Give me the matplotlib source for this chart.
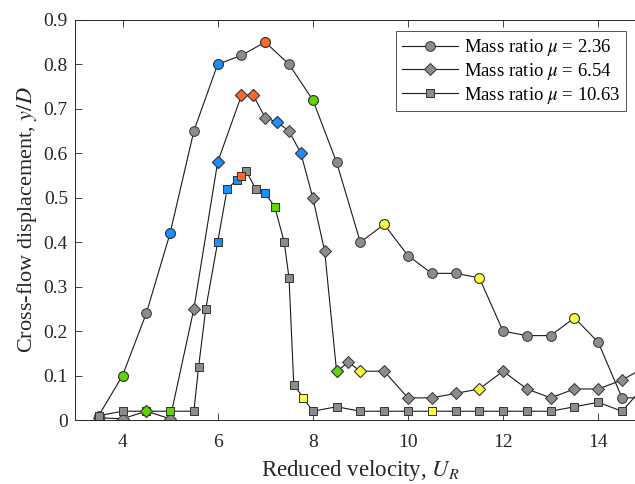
import numpy as np
import matplotlib
matplotlib.use('Agg')
import matplotlib.pyplot as plt

plt.rcParams['font.family'] = ['Liberation Serif', 'DejaVu Serif']
plt.rcParams['mathtext.fontset'] = 'stix'

# reduced velocity and cross-flow amplitude for each mass ratio
ur_1 = [3.5, 4, 4.5, 5, 5.5, 6, 6.5, 7, 7.5, 8, 8.5, 9, 9.5, 10, 10.5, 11,
        11.5, 12, 12.5, 13, 13.5, 14, 14.5, 15]
amp_1 = [0.01, 0.10, 0.24, 0.42, 0.65, 0.80, 0.82, 0.85, 0.80, 0.72, 0.58, 0.40,
         0.44, 0.37, 0.33, 0.33, 0.32, 0.20, 0.19, 0.19, 0.23, 0.175, 0.05, 0.05]
mode_1 = ['', 'g', '', 'b', '', 'b', '', 'o', '', 'g', '', '',
          'y', '', '', '', 'y', '', '', '', 'y', '', '', '']

ur_2 = [3.5, 4, 4.5, 5, 5.5, 6, 6.5, 6.75, 7, 7.25, 7.5, 7.75, 8, 8.25, 8.5,
        8.75, 9, 9.5, 10, 10.5, 11, 11.5, 12, 12.5, 13, 13.5, 14, 14.5, 15]
amp_2 = [0.005, 0.003, 0.02, 0.003, 0.25, 0.58, 0.73, 0.73, 0.68, 0.67, 0.65,
         0.60, 0.50, 0.38, 0.11, 0.13, 0.11, 0.11, 0.05, 0.05, 0.06, 0.07, 0.11,
         0.07, 0.05, 0.07, 0.07, 0.09, 0.12]
mode_2 = ['', '', 'g', '', '', 'b', 'o', 'o', '', 'b', '', 'b', '', '', 'g',
          '', 'y', '', '', '', '', 'y', '', '', '', '', '', '', '']

ur_3 = [3.5, 4, 4.5, 5, 5.5, 5.6, 5.75, 6, 6.2, 6.4, 6.5, 6.6, 6.8, 7, 7.2,
        7.4, 7.5, 7.6, 7.8, 8, 8.5, 9, 9.5, 10, 10.5, 11, 11.5, 12, 12.5, 13,
        13.5, 14, 14.5, 15]
amp_3 = [0.01, 0.02, 0.02, 0.02, 0.02, 0.12, 0.25, 0.40, 0.52, 0.54, 0.55, 0.56,
         0.52, 0.51, 0.48, 0.40, 0.32, 0.08, 0.05, 0.02, 0.03, 0.02, 0.02, 0.02,
         0.02, 0.02, 0.02, 0.02, 0.02, 0.02, 0.03, 0.04, 0.02, 0.08]
mode_3 = ['', '', '', 'g', '', '', '', 'b', 'b', 'b', 'o', '', '', 'b', 'g',
          '', '', '', 'y', '', '', '', '', '', 'y', '', '', '', '', '', '', '',
          '', '']

labels = [r'Mass ratio $\mu$ = 2.36', r'Mass ratio $\mu$ = 6.54',
          r'Mass ratio $\mu$ = 10.63']

mode_colors = {'': '#8c8c8c', 'g': '#5fd400', 'b': '#1a8fff',
               'o': '#ff6a2a', 'y': '#ffff40'}
edge = '#333333'

fig = plt.figure(figsize=(6.35, 4.84), dpi=100)
ax = fig.add_axes([0.118, 0.132, 0.899, 0.827])

series = [(ur_1, amp_1, mode_1, 'o', 7.0),
          (ur_2, amp_2, mode_2, 'D', 6.0),
          (ur_3, amp_3, mode_3, 's', 6.2)]
for (x, y, m, mk, ms), lab in zip(series, labels):
    ax.plot(x, y, '-', color='#1a1a1a', lw=0.8, marker=mk, ms=ms,
            mfc=mode_colors[''], mec=edge, mew=0.7, label=lab, zorder=2)
    for xi, yi, mi in zip(x, y, m):
        if mi:
            ax.plot(xi, yi, marker=mk, ms=ms, mfc=mode_colors[mi], mec=edge,
                    mew=0.7, ls='none', zorder=3)

ax.set_xlim(3, 15)
ax.set_ylim(0, 0.9)
ax.set_xticks([4, 6, 8, 10, 12, 14])
ax.set_yticks(np.arange(0, 0.91, 0.1))
ax.set_yticklabels(['0', '0.1', '0.2', '0.3', '0.4', '0.5', '0.6', '0.7',
                    '0.8', '0.9'])
ax.tick_params(direction='in', top=True, right=True, labelsize=14,
               colors='#262626', length=5, width=0.6, pad=5)
ax.tick_params(axis='x', pad=10)
for s in ax.spines.values():
    s.set_color('#262626')
    s.set_linewidth(0.7)

ax.set_xlabel(r'Reduced velocity, $U_R$', fontsize=16.5, color='#262626',
              labelpad=5)
ax.set_ylabel(r'Cross-flow displacement, $y/D$', fontsize=16,
              color='#262626', labelpad=3)

leg = ax.legend(loc='upper right', bbox_to_anchor=(0.975, 0.985), fontsize=13.5,
                frameon=True, fancybox=False, edgecolor='#262626',
                handlelength=3.0, borderpad=0.3, labelspacing=0.15,
                handletextpad=0.3, borderaxespad=0.3)
leg.get_frame().set_linewidth(0.7)

fig.savefig('out.png', dpi=100)
